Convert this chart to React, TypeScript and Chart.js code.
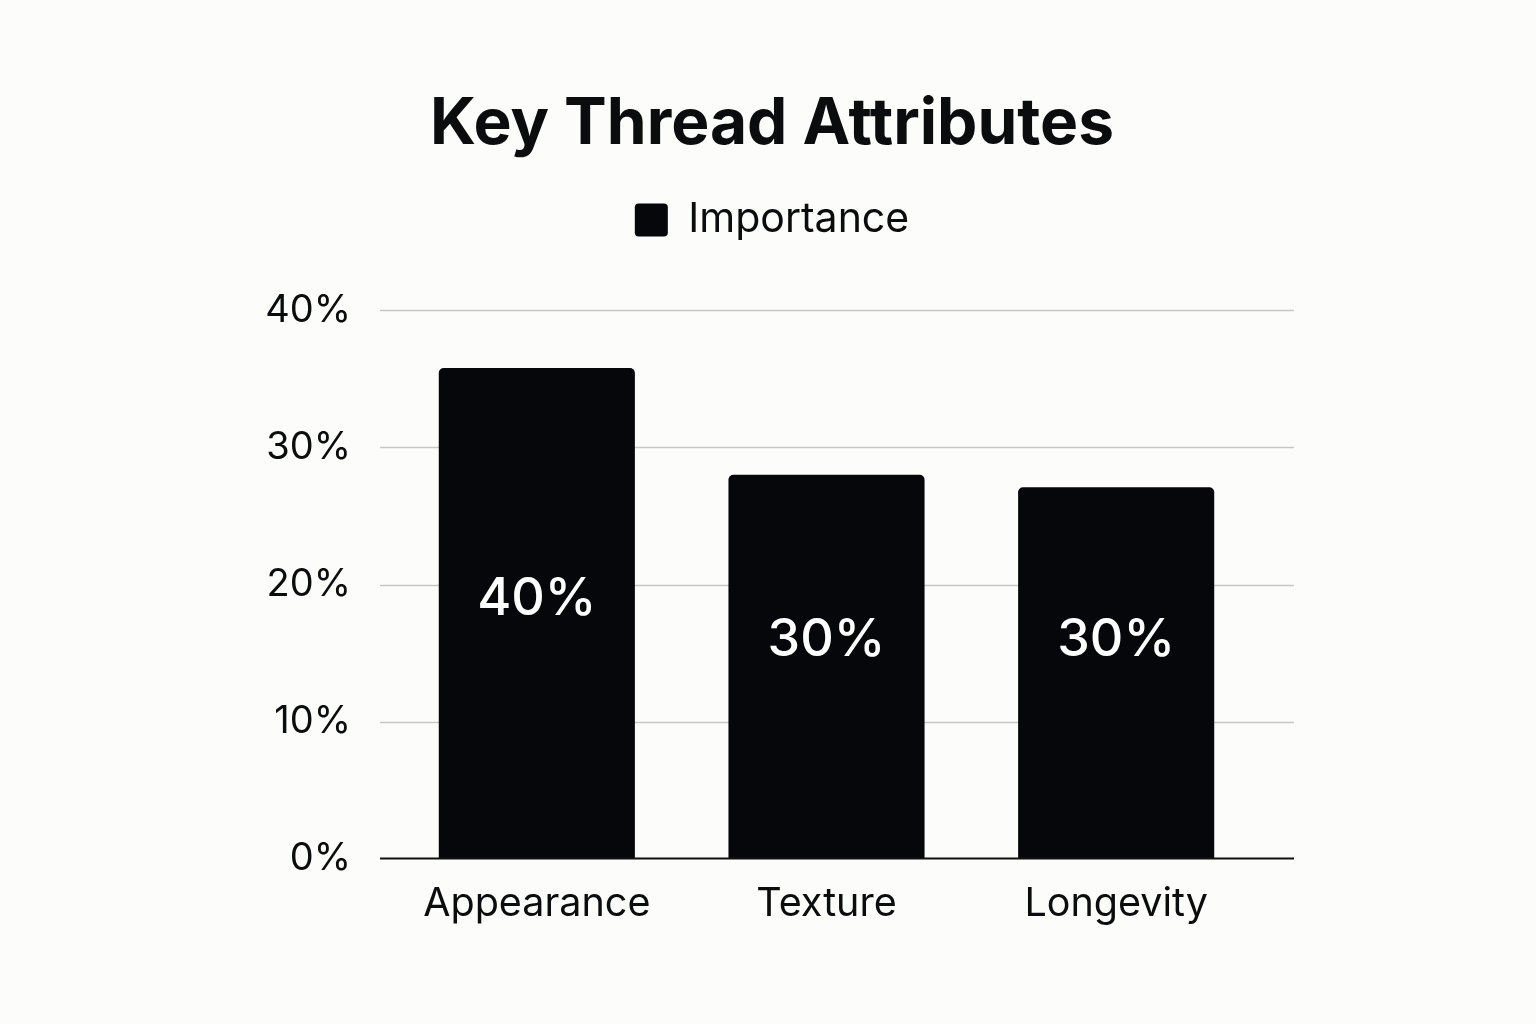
import { useRef, useEffect } from 'react';
import { Chart, registerables } from 'chart.js';

Chart.register(...registerables);

const categories = ['Appearance', 'Texture', 'Longevity'];
const importance = [35.8, 28.0, 27.1];
// text printed inside each bar, and the value level where it sits
const barLabels = ['40%', '30%', '30%'];
const barLabelLevels = [18.9, 15.9, 15.9];
const yTicks = [0, 10, 20, 30, 40];

const FONT = 'Inter, "Noto Sans", sans-serif';
const INK = '#0b0c0e';
const BAR = '#05070b';

const gridPlugin = {
  id: 'wideGrid',
  afterLayout(chart: any) {
    // title and legend are centred a bit right of the padded box
    if (chart.titleBlock) chart.titleBlock.left += 17;
    if (chart.legend) chart.legend.left += 17;
  },
  beforeDatasetsDraw(chart: any) {
    const { ctx, chartArea, scales } = chart;
    ctx.save();
    ctx.strokeStyle = '#c6c6c4';
    ctx.lineWidth = 1.5;
    yTicks.forEach((v) => {
      if (v === 0) return;
      const y = Math.round(scales.y.getPixelForValue(v)) + 0.5;
      ctx.beginPath();
      ctx.moveTo(chartArea.left - 12, y);
      ctx.lineTo(chartArea.right + 33, y);
      ctx.stroke();
    });
    ctx.restore();
  },
  afterDatasetsDraw(chart: any) {
    const { ctx, chartArea, scales } = chart;
    ctx.save();
    // base line
    const y0 = scales.y.getPixelForValue(0);
    ctx.strokeStyle = '#111';
    ctx.lineWidth = 2;
    ctx.beginPath();
    ctx.moveTo(chartArea.left - 12, y0);
    ctx.lineTo(chartArea.right + 33, y0);
    ctx.stroke();

    // labels inside the bars
    ctx.fillStyle = '#ffffff';
    ctx.font = `500 52px ${FONT}`;
    ctx.textAlign = 'center';
    ctx.textBaseline = 'middle';
    barLabels.forEach((txt, i) => {
      const x = scales.x.getPixelForValue(i);
      const y = scales.y.getPixelForValue(barLabelLevels[i]);
      ctx.fillText(txt, x, y);
    });
    ctx.restore();
  },
};

export default function App() {
  const chartRef = useRef<HTMLCanvasElement>(null);

  useEffect(() => {
    document.body.style.margin = '0';
    document.body.style.background = '#fcfcfa';
    if (!chartRef.current) return;
    const ctx = chartRef.current.getContext('2d');
    if (!ctx) return;

    const chart = new Chart(ctx, {
      type: 'bar',
      data: {
        labels: categories,
        datasets: [
          {
            label: 'Importance',
            data: importance,
            backgroundColor: BAR,
            borderColor: BAR,
            borderWidth: 0,
            borderRadius: { topLeft: 5, topRight: 5, bottomLeft: 0, bottomRight: 0 },
            borderSkipped: false,
            barPercentage: 0.677,
            categoryPercentage: 1,
          },
        ],
      },
      options: {
        responsive: false,
        animation: false,
        layout: {
          padding: { left: 266, right: 275, top: 0, bottom: 74 },
        },
        plugins: {
          title: {
            display: true,
            text: 'Key Thread Attributes',
            color: INK,
            font: { family: FONT, size: 64, weight: 'bold', lineHeight: 0.6 },
            padding: { top: 106, bottom: 0 },
          },
          legend: {
            display: true,
            labels: {
              color: INK,
              font: { family: FONT, size: 41 },
              boxWidth: 33,
              boxHeight: 33,
              useBorderRadius: true,
              borderRadius: 4,
              padding: 55,
            },
          },
          // empty block used as the gap between legend and plot
          subtitle: {
            display: true,
            text: '',
            weight: 500,
            font: { size: 1, lineHeight: 1 },
            padding: { top: 59, bottom: 0 },
          },
          tooltip: { enabled: false },
        },
        scales: {
          x: {
            offset: true,
            grid: { display: false, drawTicks: false },
            border: { display: false },
            ticks: {
              color: INK,
              font: { family: FONT, size: 39.5 },
              padding: 22,
            },
          },
          y: {
            min: 0,
            max: 40,
            grid: { display: false, drawTicks: false },
            border: { display: false },
            afterBuildTicks: (scale: any) => {
              scale.ticks = yTicks.map((v) => ({ value: v }));
            },
            afterFit: (scale: any) => {
              scale.width = 126;
            },
            ticks: {
              color: INK,
              font: { family: FONT, size: 38 },
              padding: 41,
              callback: (value: any) => `${value}%`,
            },
          },
        },
      },
      plugins: [gridPlugin],
    });

    return () => {
      chart.destroy();
    };
  }, []);

  return (
    <div style={{ width: 1536, height: 1024, background: '#fcfcfa' }}>
      <canvas ref={chartRef} width={1536} height={1024}></canvas>
    </div>
  );
}
